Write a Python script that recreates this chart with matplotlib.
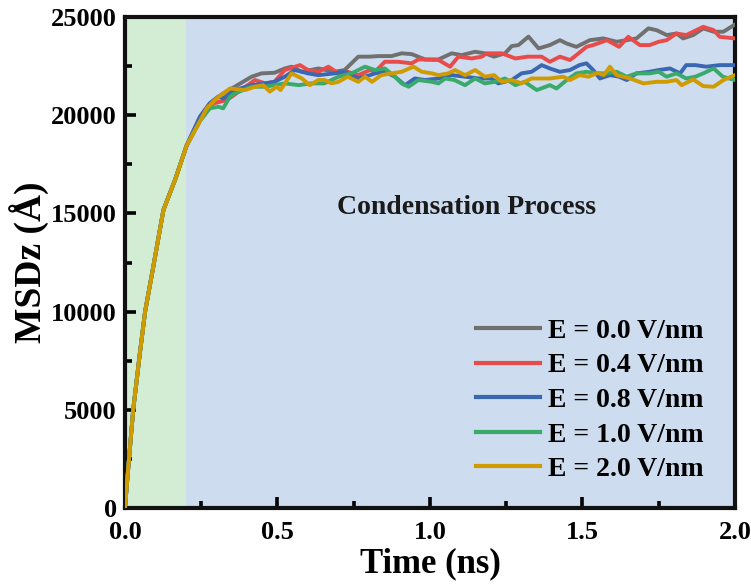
import matplotlib.pyplot as plt
from matplotlib.ticker import MultipleLocator

plt.rcParams['font.family'] = ['Liberation Serif', 'DejaVu Serif']
plt.rcParams['font.weight'] = 'bold'

# shared initial rise (0 - 0.2 ns)
t_rise = [0.0, 0.011, 0.027, 0.049, 0.066, 0.093, 0.126, 0.164, 0.202]
msd_rise = [0, 2100, 5000, 7900, 10000, 12300, 15170, 16700, 18450]

labels = ['E = 0.0 V/nm', 'E = 0.4 V/nm', 'E = 0.8 V/nm', 'E = 1.0 V/nm', 'E = 2.0 V/nm']
colors = ['#707070', '#e94b4b', '#3a67b1', '#3aaa6b', '#d09b00']

t_e00 = [0.246, 0.278, 0.306, 0.322, 0.36, 0.415, 0.448, 0.49, 0.524, 0.546, 0.58, 0.634, 0.688, 0.72,
         0.765, 0.803, 0.83, 0.874, 0.907, 0.94, 0.984, 1.028, 1.071, 1.104, 1.148, 1.18, 1.21, 1.246,
         1.268, 1.29, 1.323, 1.356, 1.393, 1.426, 1.448, 1.48, 1.524, 1.568, 1.612, 1.645, 1.677, 1.716,
         1.743, 1.776, 1.808, 1.83, 1.863, 1.896, 1.93, 1.962, 2.0]
msd_e00 = [19920, 20600, 20940, 21110, 21450, 21960, 22130, 22160, 22380, 22470, 22210, 22380, 22210, 22300,
           22980, 22980, 23010, 23010, 23150, 23110, 22840, 22840, 23150, 23060, 23230, 23150, 22980, 23150,
           23520, 23570, 24000, 23400, 23570, 23820, 23650, 23480, 23820, 23910, 23740, 23820, 23910, 24420,
           24330, 24080, 24160, 23910, 24080, 24420, 24250, 24250, 24620]

t_e04 = [0.246, 0.29, 0.333, 0.35, 0.38, 0.426, 0.46, 0.49, 0.524, 0.574, 0.6, 0.634, 0.667, 0.70, 0.73,
         0.765, 0.803, 0.82, 0.852, 0.896, 0.94, 0.962, 1.028, 1.066, 1.093, 1.137, 1.17, 1.186, 1.235,
         1.28, 1.32, 1.366, 1.393, 1.426, 1.459, 1.48, 1.513, 1.535, 1.58, 1.62, 1.65, 1.688, 1.72, 1.75,
         1.776, 1.808, 1.84, 1.896, 1.93, 1.95, 2.0]
msd_e04 = [19750, 20600, 20770, 20940, 21280, 21790, 21620, 21700, 22300, 22550, 22300, 22210, 22470, 22130, 22210,
           22040, 22300, 22210, 22720, 22720, 22640, 22840, 22810, 22470, 22980, 22890, 22980, 23150, 23150,
           22890, 22980, 22980, 22720, 22980, 22810, 23060, 23480, 23570, 23820, 23480, 23990, 23570, 23570, 23740,
           23820, 24160, 24080, 24500, 24330, 23990, 23910]

t_e08 = [0.246, 0.278, 0.306, 0.322, 0.36, 0.415, 0.459, 0.49, 0.524, 0.557, 0.6, 0.634, 0.688, 0.72,
         0.765, 0.803, 0.82, 0.852, 0.885, 0.918, 0.95, 0.984, 1.028, 1.071, 1.115, 1.16, 1.20, 1.224,
         1.268, 1.30, 1.333, 1.366, 1.393, 1.426, 1.459, 1.49, 1.513, 1.535, 1.557, 1.59, 1.62, 1.645,
         1.677, 1.72, 1.75, 1.787, 1.82, 1.84, 1.87, 1.906, 1.95, 2.0]
msd_e08 = [19920, 20600, 20940, 20850, 21280, 21530, 21620, 21700, 21960, 22300, 22130, 22040, 22130, 22210,
           21870, 22040, 22130, 22210, 21960, 21530, 21870, 21790, 21870, 22040, 21960, 21870, 21870, 21620,
           21790, 22130, 22210, 22550, 22380, 22210, 22300, 22550, 22640, 22300, 21870, 22040, 21960, 21790,
           22130, 22210, 22300, 22380, 22130, 22550, 22550, 22470, 22550, 22550]

t_e10 = [0.246, 0.278, 0.306, 0.322, 0.344, 0.36, 0.415, 0.459, 0.524, 0.57, 0.61, 0.654, 0.70, 0.743,
         0.787, 0.82, 0.852, 0.885, 0.907, 0.93, 0.962, 1.006, 1.028, 1.05, 1.08, 1.115, 1.148, 1.18,
         1.213, 1.246, 1.28, 1.31, 1.35, 1.38, 1.393, 1.415, 1.448, 1.48, 1.513, 1.546, 1.58, 1.612,
         1.645, 1.677, 1.72, 1.75, 1.776, 1.808, 1.84, 1.87, 1.896, 1.93, 1.96, 2.0]
msd_e10 = [19700, 20350, 20430, 20350, 20940, 21110, 21450, 21450, 21620, 21530, 21620, 21620, 21960, 22130,
           22470, 22300, 22380, 21960, 21620, 21450, 21790, 21700, 21620, 21870, 21790, 21530, 21870, 21620,
           21700, 21870, 21530, 21700, 21280, 21450, 21530, 21360, 21790, 22130, 22210, 22130, 22130, 22210,
           21960, 22130, 22130, 22210, 21960, 22130, 21870, 21960, 22130, 22380, 21960, 21790]

t_e20 = [0.246, 0.268, 0.30, 0.344, 0.394, 0.426, 0.453, 0.475, 0.497, 0.51, 0.546, 0.58, 0.606, 0.634,
         0.655, 0.677, 0.70, 0.73, 0.765, 0.787, 0.81, 0.84, 0.874, 0.907, 0.946, 0.973, 1.006, 1.028,
         1.06, 1.082, 1.115, 1.148, 1.18, 1.21, 1.235, 1.268, 1.30, 1.333, 1.366, 1.393, 1.437, 1.459,
         1.49, 1.52, 1.55, 1.57, 1.59, 1.612, 1.656, 1.70, 1.743, 1.776, 1.808, 1.825, 1.863, 1.896,
         1.93, 1.962, 2.0]
msd_e20 = [19700, 20350, 20850, 21360, 21280, 21450, 21530, 21200, 21450, 21280, 22130, 21870, 21530, 21790,
           21790, 21620, 21700, 21960, 21700, 21960, 21700, 22040, 22130, 22210, 22470, 22210, 22130, 22040,
           22130, 22300, 22040, 22300, 21960, 22040, 21700, 21790, 21620, 21870, 21870, 21870, 21960, 21790,
           22040, 21960, 22160, 22040, 22470, 22040, 21870, 21620, 21700, 21700, 21790, 21530, 21820, 21480,
           21450, 21790, 22040]

series_t = [t_e00, t_e04, t_e08, t_e10, t_e20]
series_msd = [msd_e00, msd_e04, msd_e08, msd_e10, msd_e20]

fig = plt.figure(figsize=(7.51, 5.84), dpi=100)
ax = fig.add_axes([0.1664, 0.1301, 0.8123, 0.8408])

# shaded process regions
ax.axvspan(0.0, 0.2, color='#d2edd4', zorder=0, lw=0)
ax.axvspan(0.2, 2.0, color='#cddcee', zorder=0, lw=0)

for t, m, c, lab in zip(series_t, series_msd, colors, labels):
    ax.plot(t_rise + t, msd_rise + m, color=c, lw=2.8, label=lab, zorder=3)

ax.set_xlim(0, 2.0)
ax.set_ylim(0, 25000)
ax.xaxis.set_major_locator(MultipleLocator(0.5))
ax.xaxis.set_minor_locator(MultipleLocator(0.25))
ax.yaxis.set_major_locator(MultipleLocator(5000))
ax.yaxis.set_minor_locator(MultipleLocator(2500))
ax.xaxis.set_major_formatter(plt.FuncFormatter(lambda v, p: '%.1f' % v))

ax.tick_params(which='major', direction='in', length=8, width=2.6, labelsize=19)
ax.tick_params(axis='x', which='major', pad=9)
ax.tick_params(axis='y', which='major', pad=6)
ax.tick_params(which='minor', direction='in', length=5, width=2.6)
for s in ax.spines.values():
    s.set_linewidth(3)
    s.set_color('#111111')

ax.set_xlabel('Time (ns)', fontsize=25, fontweight='bold', labelpad=3)
ax.set_ylabel('MSDz (Å)', fontsize=27, fontweight='bold', labelpad=1)

ax.text(1.12, 15300, 'Condensation Process', fontsize=20, fontweight='bold',
        ha='center', va='center', color='#1a1a1a')

leg = ax.legend(loc='lower right', frameon=False, fontsize=20, handlelength=2.3,
                handletextpad=0.28, labelspacing=0.33, borderaxespad=0.0,
                bbox_to_anchor=(0.966, 0.03))
for line in leg.get_lines():
    line.set_linewidth(3)

fig.savefig('out.png', dpi=100)
